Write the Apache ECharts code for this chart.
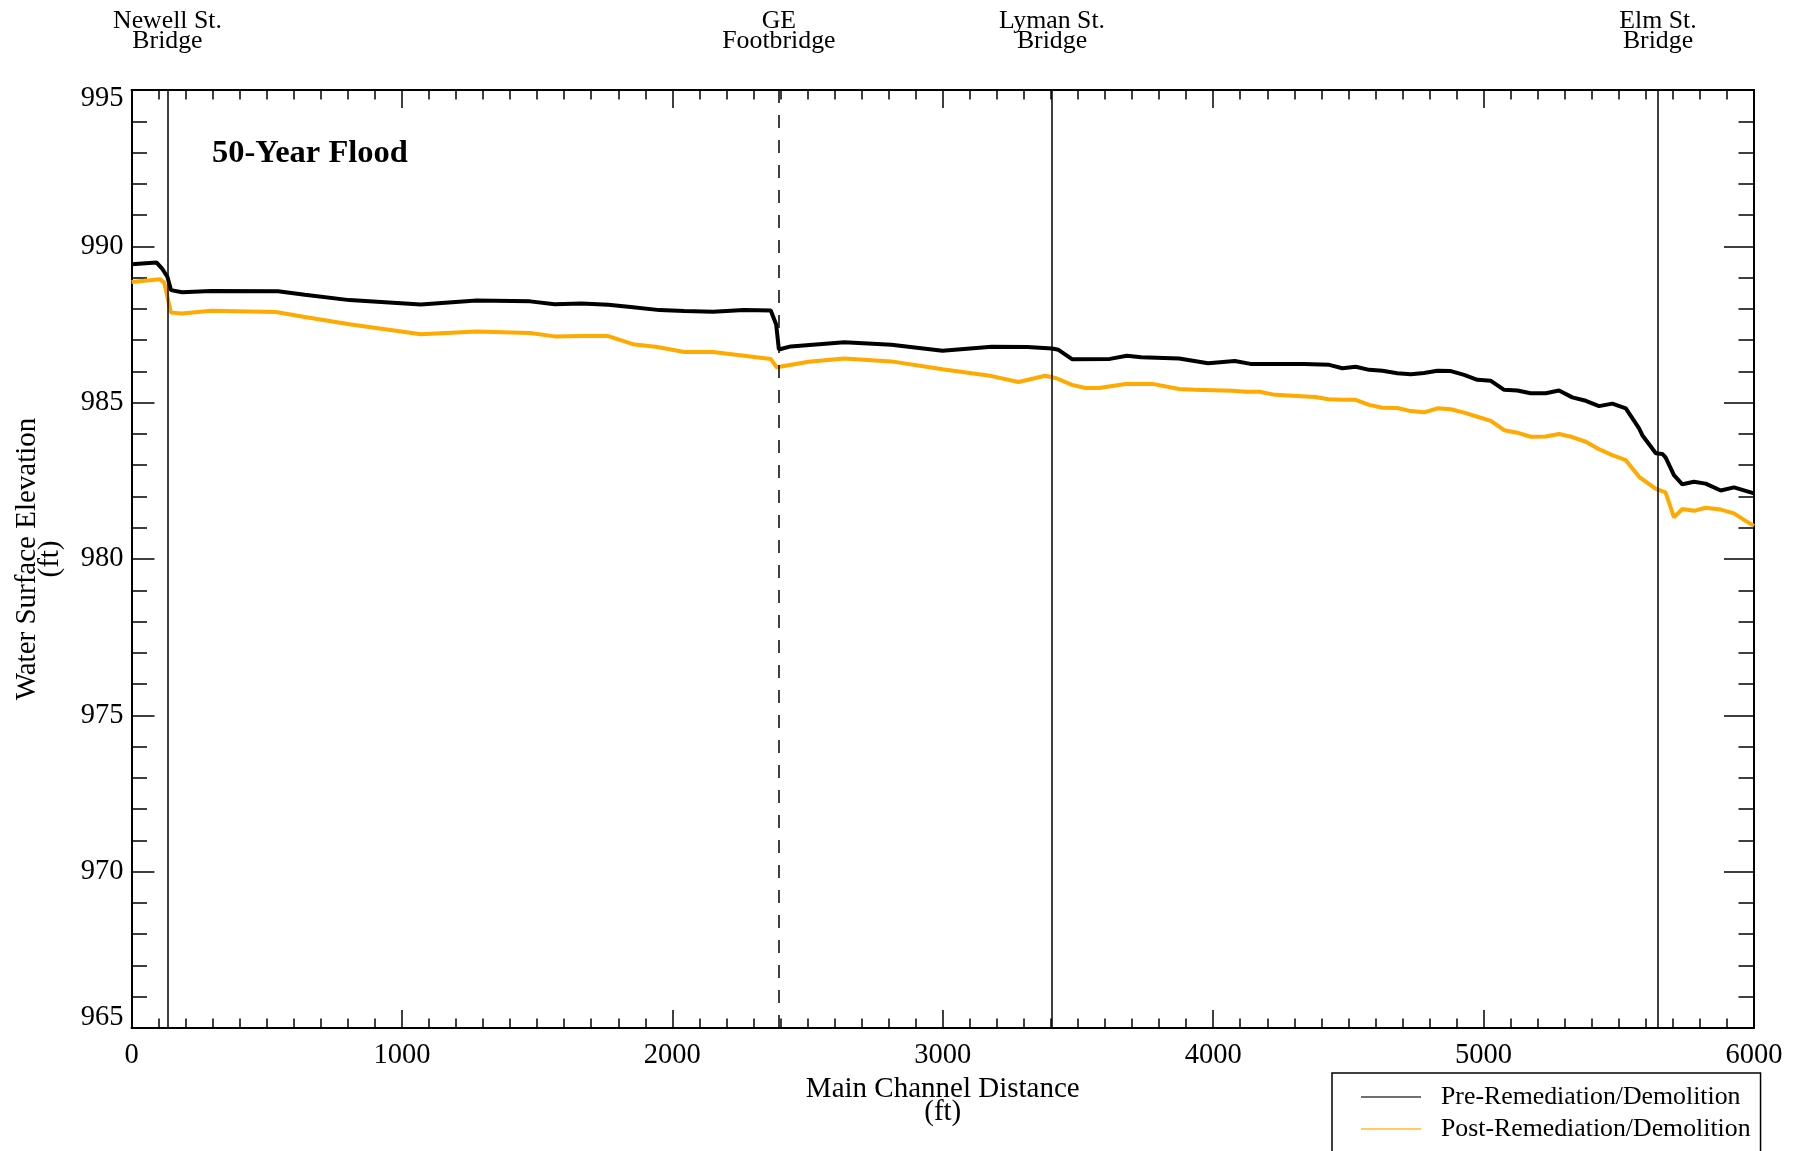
<!DOCTYPE html>
<html><head><meta charset="utf-8">
<script src="https://cdn.jsdelivr.net/npm/echarts@6/dist/echarts.min.js"></script>
<style>html,body{margin:0;padding:0;background:#fff}#c{width:1800px;height:1151px}</style>
</head><body><div id="c"></div>
<script>
// Main channel distance (ft) and water surface elevation (ft)
const distPre = [0,93,113,133,146,187,294,542,641,806,1070,1276,1474,1565,1664,1763,1846,1953,2044,2151,2265,2364,2384,2394,2438,2636,2810,2999,3181,3313,3404,3428,3478,3618,3681,3734,3874,3981,4080,4138,4336,4429,4478,4527,4577,4626,4681,4731,4780,4829,4879,4928,4977,5027,5076,5125,5174,5230,5279,5328,5378,5427,5476,5526,5575,5587,5637,5661,5673,5704,5735,5778,5821,5877,5926,6000];
const elevPre = [989.43,989.48,989.29,989.02,988.60,988.53,988.57,988.56,988.45,988.28,988.14,988.27,988.24,988.15,988.17,988.13,988.06,987.96,987.93,987.91,987.96,987.95,987.50,986.70,986.80,986.93,986.85,986.66,986.79,986.78,986.73,986.69,986.39,986.40,986.50,986.45,986.41,986.26,986.33,986.24,986.24,986.21,986.10,986.15,986.05,986.02,985.94,985.91,985.95,986.02,986.01,985.89,985.73,985.70,985.41,985.39,985.30,985.30,985.39,985.17,985.06,984.89,984.97,984.82,984.18,983.96,983.38,983.36,983.25,982.68,982.39,982.47,982.41,982.19,982.29,982.10];
const distPost = [0,105,121,146,187,294,534,641,806,1070,1276,1474,1565,1664,1763,1854,1945,2044,2151,2258,2364,2386,2504,2636,2810,2999,3181,3280,3379,3420,3478,3528,3577,3676,3775,3874,3932,4072,4121,4171,4229,4377,4427,4478,4527,4577,4626,4681,4731,4780,4829,4879,4928,4977,5027,5076,5125,5174,5230,5279,5328,5378,5427,5476,5526,5575,5637,5673,5704,5735,5778,5821,5877,5926,5969,6000];
const elevPost = [988.86,988.95,988.84,987.88,987.85,987.94,987.90,987.74,987.51,987.19,987.28,987.23,987.12,987.13,987.13,986.87,986.78,986.62,986.62,986.51,986.40,986.13,986.31,986.41,986.32,986.07,985.85,985.66,985.86,985.78,985.57,985.47,985.47,985.60,985.60,985.44,985.41,985.38,985.35,985.35,985.25,985.18,985.11,985.09,985.09,984.93,984.84,984.83,984.73,984.69,984.82,984.79,984.68,984.55,984.42,984.12,984.04,983.91,983.92,984.00,983.90,983.75,983.51,983.32,983.16,982.63,982.24,982.13,981.33,981.60,981.54,981.64,981.58,981.46,981.22,981.06];
// Bridges
const bridgeNames = ['Newell St.\nBridge','GE\nFootbridge','Lyman St.\nBridge','Elm St.\nBridge'];
const bridgeDist = [133, 2394, 3404, 5645];
const bridgeDashed = [false, true, false, false];
const seriesNames = ['Pre-Remediation/Demolition','Post-Remediation/Demolition'];
const titleText = '50-Year Flood';

const FF = "'Liberation Serif','Times New Roman',Times,serif";
const chart = echarts.init(document.getElementById('c'), null, {renderer:'canvas'});

function xAx(pos, labels){
  return {
    type:'value', position:pos, min:0, max:6000, interval:1000,
    axisLine:{show:true, onZero:false, lineStyle:{color:'#000', width:2}},
    axisTick:{show:true, inside:true, length:18, lineStyle:{color:'#000', width:1.5}},
    minorTick:{show:true, splitNumber:10, length:9.5, lineStyle:{color:'#000', width:1.5}},
    splitLine:{show:false}, minorSplitLine:{show:false},
    axisLabel:{show:labels, margin:13, fontFamily:FF, fontSize:28.5, color:'#000',
      formatter: v => String(v)},
    name: labels ? 'Main Channel Distance\n(ft)' : '',
    nameLocation:'middle', nameGap:48,
    nameTextStyle:{fontFamily:FF, fontSize:29, lineHeight:23, color:'#000'}
  };
}
function yAx(pos, labels){
  return {
    type:'value', position:pos, min:965, max:995, interval:5,
    axisLine:{show:true, onZero:false, lineStyle:{color:'#000', width:2}},
    axisTick:{show:true, inside:true, length: labels?23:30, lineStyle:{color:'#000', width:1.5}},
    minorTick:{show:true, splitNumber:5, length:15.5, lineStyle:{color:'#000', width:1.5}},
    splitLine:{show:false}, minorSplitLine:{show:false},
    axisLabel:{show:labels, margin:8, fontFamily:FF, fontSize:28.5, color:'#000',
      formatter: v => v === 995 ? '{top|' + v + '}' : (v === 965 ? '{bot|' + v + '}' : String(v)),
      rich:{
        top:{fontFamily:FF, fontSize:28.5, color:'#000', padding:[18,0,0,0]},
        bot:{fontFamily:FF, fontSize:28.5, color:'#000', padding:[0,0,20,0]}
      }},
    name: labels ? 'Water Surface Elevation\n(ft)' : '',
    nameLocation:'middle', nameGap:70, nameRotate:90,
    nameTextStyle:{fontFamily:FF, fontSize:29, lineHeight:23, color:'#000'}
  };
}

const option = {
  animation:false,
  backgroundColor:'#fff',
  title:{text:titleText, left:212, top:137, padding:0,
    textStyle:{fontFamily:FF, fontSize:32.5, fontWeight:'bold', color:'#000'}},
  grid:{left:131.5, right:46, top:90, bottom:123},
  xAxis:[xAx('bottom', true), xAx('top', false)],
  yAxis:[yAx('left', true), yAx('right', false)],
  legend:{
    orient:'vertical', left:1332, top:1073, height:120, padding:[11,10,40,29], itemGap:6,
    itemWidth:60, itemHeight:2, icon:'rect', selectedMode:false,
    borderColor:'#000', borderWidth:1.5,
    textStyle:{fontFamily:FF, fontSize:25.8, lineHeight:26, color:'#000', padding:[0,0,0,15]},
    data:[{name:seriesNames[0], itemStyle:{color:'#707070'}},
          {name:seriesNames[1], itemStyle:{color:'#FFCC60'}}]
  },
  series:[
    {
      name:seriesNames[0], type:'line', xAxisIndex:0, yAxisIndex:0,
      data: distPre.map((d,i)=>[d, elevPre[i]]),
      showSymbol:false, symbol:'none',
      lineStyle:{color:'#000', width:4}, itemStyle:{color:'#000'},
      emphasis:{disabled:true}, z:4,
      markLine:{
        silent:true, symbol:'none', animation:false,
        label:{show:true, position:'end', formatter:'{b}', fontFamily:FF, fontSize:25.8, lineHeight:20.5, color:'#000', distance:38.5},
        lineStyle:{color:'#000', width:1.5, type:'solid'},
        emphasis:{disabled:true},
        data: bridgeDist.map((d,i)=>({name:bridgeNames[i], xAxis:d,
          lineStyle:{color:'#000', width:1.5, type: bridgeDashed[i] ? [13,12] : 'solid'}}))
      }
    },
    {
      name:seriesNames[1], type:'line', xAxisIndex:0, yAxisIndex:0,
      data: distPost.map((d,i)=>[d, elevPost[i]]),
      showSymbol:false, symbol:'none',
      lineStyle:{color:'#FFAA00', width:4}, itemStyle:{color:'#FFAA00'},
      emphasis:{disabled:true}, z:3
    }
  ]
};
chart.setOption(option);
</script></body></html>
